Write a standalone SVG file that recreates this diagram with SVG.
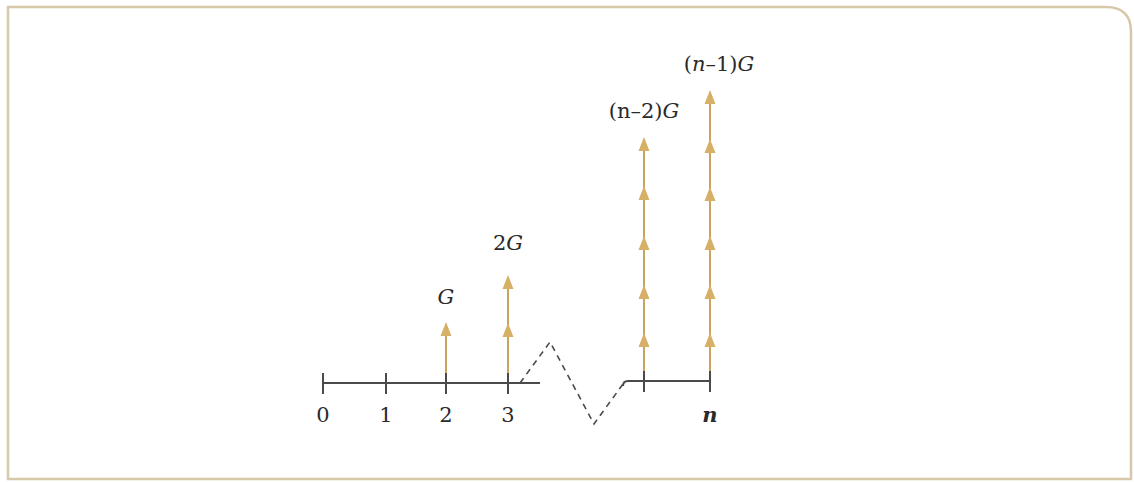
<svg xmlns="http://www.w3.org/2000/svg" width="1134" height="482" viewBox="0 0 1134 482">
<style>
.axis{stroke:#4a4a4a;stroke-width:2;fill:none}
.tick{stroke:#4a4a4a;stroke-width:2}
.dash{stroke:#4a4a4a;stroke-width:1.6;fill:none;stroke-dasharray:6 5}
.flow{stroke:#c9a45e;stroke-width:2;fill:none}
.lbl{font-family:"DejaVu Serif","Liberation Serif",serif;font-size:21px;fill:#2a2a2a;text-anchor:middle}
.it{font-style:italic}
</style>
<defs>
<path id="ah" d="M0,0 L-5.5,14 L5.5,14 Z" fill="#d6b067"/>
</defs>
<path d="M8,7 H1106 Q1131,7 1131,32 V479 H8 Z" fill="#fff" stroke="#d6c8a8" stroke-width="2.5"/>
<g id="axis">
<line class="axis" x1="323" y1="383" x2="540" y2="383"/>
<path class="axis" d="M623,386 Q623,381 628,381 H710"/>
<line class="tick" x1="323" y1="373" x2="323" y2="394"/>
<line class="tick" x1="386" y1="373" x2="386" y2="394"/>
<line class="tick" x1="446" y1="373" x2="446" y2="394"/>
<line class="tick" x1="508" y1="373" x2="508" y2="394"/>
<line class="tick" x1="644" y1="371" x2="644" y2="392"/>
<line class="tick" x1="710" y1="371" x2="710" y2="392"/>
<text class="lbl" x="323" y="422">0</text>
<text class="lbl" x="386" y="422">1</text>
<text class="lbl" x="446" y="422">2</text>
<text class="lbl" x="508" y="422">3</text>
<text class="lbl it" x="710" y="422" font-weight="bold">n</text>
</g>
<g id="connectors">
<path class="dash" d="M520,383 L550,342 L594,424 L623,384"/>
</g>
<g id="cf1">
<line class="flow" x1="446" y1="373" x2="446" y2="324"/>
<use href="#ah" x="446" y="322"/>
<text class="lbl it" x="446" y="304">G</text>
</g>
<g id="cf2">
<line class="flow" x1="508" y1="373" x2="508" y2="277"/>
<use href="#ah" x="508" y="275"/>
<use href="#ah" x="508" y="323"/>
<text class="lbl" x="508" y="250">2<tspan class="it">G</tspan></text>
</g>
<g id="cfn2">
<line class="flow" x1="644" y1="371" x2="644" y2="139"/>
<use href="#ah" x="644" y="137"/>
<use href="#ah" x="644" y="186"/>
<use href="#ah" x="644" y="236"/>
<use href="#ah" x="644" y="285"/>
<use href="#ah" x="644" y="333"/>
<text class="lbl" x="644" y="118">(n–2)<tspan class="it">G</tspan></text>
</g>
<g id="cfn1">
<line class="flow" x1="710" y1="371" x2="710" y2="92"/>
<use href="#ah" x="710" y="90"/>
<use href="#ah" x="710" y="139"/>
<use href="#ah" x="710" y="187"/>
<use href="#ah" x="710" y="236"/>
<use href="#ah" x="710" y="285"/>
<use href="#ah" x="710" y="333"/>
<text class="lbl" x="719" y="71">(<tspan class="it">n</tspan>–1)<tspan class="it">G</tspan></text>
</g>
</svg>
